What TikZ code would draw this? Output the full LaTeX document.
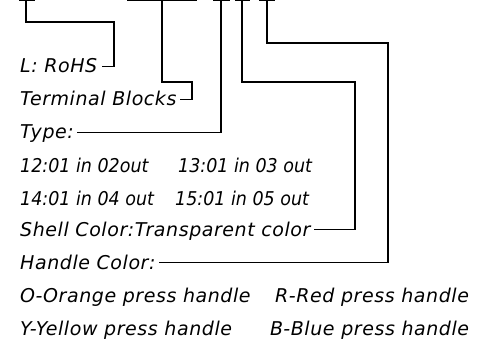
\documentclass[tikz,border=0pt]{standalone}
\usepackage{fontspec}
\setmainfont{DejaVu Sans}[LetterSpace=3]
\newfontfamily\numfont{DejaVu Sans}[FakeStretch=0.92]
\usetikzlibrary{calc}
\begin{document}
\begin{tikzpicture}[x=1pt,y=-1pt,
  lbl/.style={anchor=base west, inner sep=0pt, font=\itshape\fontsize{19}{19}\selectfont},
  num/.style={lbl, font=\numfont\itshape\fontsize{19}{19}\selectfont},
  wire/.style={line width=1.4pt, line join=miter},
  tick/.style={line width=1.4pt}]
\useasboundingbox (0,0) rectangle (484,350);
% top ticks
\draw[tick] (19,0.7) -- (35,0.7);
\draw[tick] (127,0.7) -- (197,0.7);
\draw[tick] (213,0.7) -- (230,0.7);
\draw[tick] (235,0.7) -- (250,0.7);
\draw[tick] (259,0.7) -- (275,0.7);
\coordinate (c1) at (26,0);
\coordinate (c2) at (162,0);
\coordinate (c3) at (221,0);
\coordinate (c4) at (242,0);
\coordinate (c5) at (267,0);
% labels
\node[lbl] (t1) at (20,73) {L: RoHS};
\node[lbl] (t2) at (20,106) {Terminal Blocks};
\node[lbl] (t3) at (20,139) {Type:};
\node[num] (t4a) at (20,172) {12:01 in 02out};
\node[num] (t4b) at (178,172) {13:01 in 03 out};
\node[num] (t5a) at (20,205) {14:01 in 04 out};
\node[num] (t5b) at (175,205) {15:01 in 05 out};
\node[lbl] (t6) at (20,236) {Shell Color:Transparent color};
\node[lbl] (t7) at (20,269) {Handle Color:};
\node[lbl] (t8a) at (20,302) {O-Orange press handle};
\node[lbl] (t8b) at (275,302) {R-Red press handle};
\node[lbl] (t9a) at (20,335) {Y-Yellow press handle};
\node[lbl] (t9b) at (270,335) {B-Blue press handle};
% connectors
\draw[wire] (c1) |- (114,22) |- ($(t1.base east)+(5,-6.5)$);
\draw[wire] (c2) |- (192,82) |- ($(t2.base east)+(3,-6.5)$);
\draw[wire] (c3) |- ($(t3.base east)+(3,-6.5)$);
\draw[wire] (c4) |- (355,82) |- ($(t6.base east)+(3,-6.5)$);
\draw[wire] (c5) |- (388,43) |- ($(t7.base east)+(3,-6.5)$);
\end{tikzpicture}
\end{document}
